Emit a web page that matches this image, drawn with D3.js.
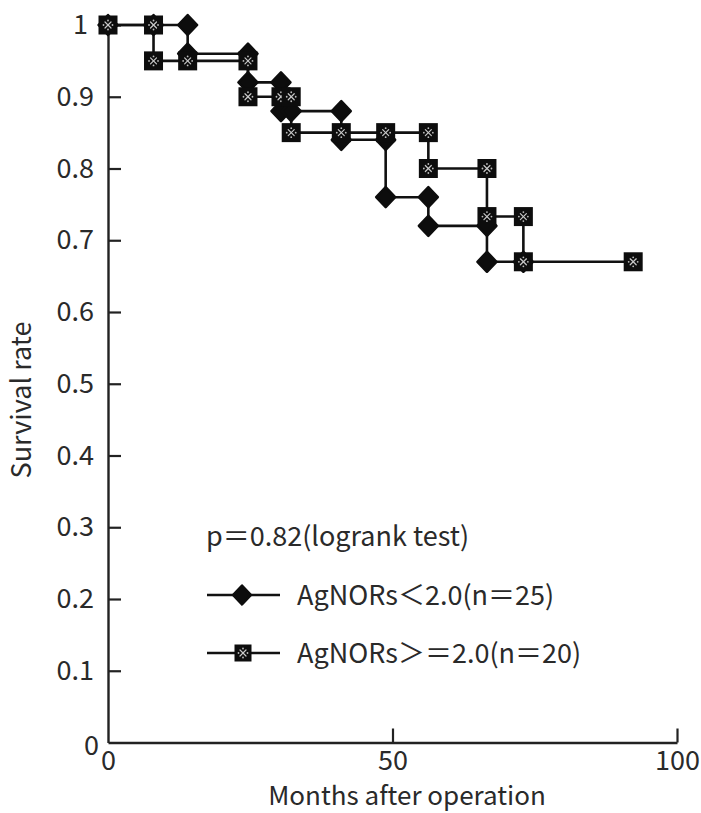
<!DOCTYPE html>
<html>
<head>
<meta charset="utf-8">
<script src="https://cdn.jsdelivr.net/npm/d3@7"></script>
<style>
  html, body { margin: 0; padding: 0; background: #fff; }
  svg { display: block; }
  text { font-family: "Noto Sans CJK JP", "Noto Sans", sans-serif; fill: #2a2a2a; }
</style>
</head>
<body>
<svg id="chart" width="701" height="813"></svg>
<script>
// Kaplan-Meier survival curves: months after operation vs survival rate
const lowTimes = [0, 8, 14, 24.6, 30.4, 32.2, 41, 48.8, 56.3, 66.6, 73];
const lowSurv  = [1, 1, 0.96, 0.92, 0.88, 0.88, 0.84, 0.76, 0.72, 0.67, 0.67];

const highTimes = [0, 8, 14, 24.6, 30.4, 32.2, 41, 48.8, 56.3, 66.6, 73, 92.3];
const highSurv  = [1, 0.95, 0.95, 0.90, 0.90, 0.85, 0.85, 0.85, 0.80, 0.733, 0.67, 0.67];

const xTicks = [0, 50, 100];
const xTickLabels = ["0", "50", "100"];
const yTicks = [0, 0.1, 0.2, 0.3, 0.4, 0.5, 0.6, 0.7, 0.8, 0.9, 1];
const yTickLabels = ["0", "0.1", "0.2", "0.3", "0.4", "0.5", "0.6", "0.7", "0.8", "0.9", "1"];

const seriesNames = ["AgNORs＜2.0(n＝25)", "AgNORs＞＝2.0(n＝20)"];
const testNote = "p＝0.82(logrank test)";
const xTitle = "Months after operation";
const yTitle = "Survival rate";

const svg = d3.select("#chart");
const x = d3.scaleLinear().domain([0, 100]).range([108, 677]);
const y = d3.scaleLinear().domain([0, 1]).range([742.5, 25]);

// axes: ticks point into the plot
const xAxis = d3.axisBottom(x)
  .tickValues(xTicks)
  .tickFormat((d, i) => xTickLabels[i])
  .tickSizeInner(-14).tickSizeOuter(0).tickPadding(8);
const yAxis = d3.axisLeft(y)
  .tickValues(yTicks)
  .tickFormat((d, i) => yTickLabels[i])
  .tickSizeInner(-13).tickSizeOuter(0).tickPadding(14);

const gx = svg.append("g").attr("transform", `translate(0,${y(0)})`).call(xAxis);
const gy = svg.append("g").attr("transform", `translate(${x(0)},0)`).call(yAxis);
[gx, gy].forEach(g => {
  g.select(".domain").attr("stroke", "#222").attr("stroke-width", 2.4);
  g.selectAll(".tick line").attr("stroke", "#222").attr("stroke-width", 2.2);
  g.selectAll(".tick text").attr("font-size", 27).attr("fill", "#2a2a2a")
    .attr("font-family", "'Noto Sans CJK JP', sans-serif");
});
gx.selectAll(".tick").filter(d => d === 0).select("line").remove();
gy.selectAll(".tick").filter(d => d === 0).select("line").remove();
gy.selectAll(".tick").filter(d => d === 0).select("text").attr("dy", "0.45em").attr("x", -9);
gy.selectAll(".tick").filter(d => d === 1).select("text").attr("x", -20);

// axis titles
svg.append("text")
  .attr("x", 407).attr("y", 805)
  .attr("text-anchor", "middle").attr("font-size", 26)
  .text(xTitle);
svg.append("text")
  .attr("transform", `translate(31,${400}) rotate(-90)`)
  .attr("text-anchor", "middle").attr("font-size", 27)
  .text(yTitle);

// step curves
const step = d3.line().curve(d3.curveStepAfter)
  .x(d => x(d[0])).y(d => y(d[1]));
const lowPts = lowTimes.map((t, i) => [t, lowSurv[i]]);
const highPts = highTimes.map((t, i) => [t, highSurv[i]]);

[lowPts, highPts].forEach(pts => {
  svg.append("path").datum(pts)
    .attr("d", step)
    .attr("fill", "none").attr("stroke", "#111").attr("stroke-width", 2.6);
});

// marker positions: both ends of each drop, or a single point where it stays level
function markerPoints(pts) {
  const out = [];
  pts.forEach((p, i) => {
    if (i > 0 && pts[i - 1][1] !== p[1]) out.push([p[0], pts[i - 1][1]]);
    out.push(p);
  });
  return out;
}

function drawDiamond(g, cx, cy, r) {
  g.append("path")
    .attr("d", `M${cx},${cy - r}L${cx + r * 0.95},${cy}L${cx},${cy + r}L${cx - r * 0.95},${cy}Z`)
    .attr("fill", "#0d0d0d").attr("stroke", "#0d0d0d").attr("stroke-width", 2.5)
    .attr("stroke-linejoin", "round");
}

function drawSquare(g, cx, cy, s) {
  g.append("rect")
    .attr("x", cx - s / 2).attr("y", cy - s / 2)
    .attr("width", s).attr("height", s)
    .attr("fill", "#0d0d0d");
  // small light ※-like fill pattern
  const p = g.append("g").attr("stroke", "#c8c8c8").attr("stroke-width", 1.2)
    .attr("stroke-linecap", "round");
  p.append("line").attr("x1", cx - 3).attr("y1", cy - 3).attr("x2", cx + 3).attr("y2", cy + 3);
  p.append("line").attr("x1", cx - 3).attr("y1", cy + 3).attr("x2", cx + 3).attr("y2", cy - 3);
  [[0, -4.5], [0, 4.5], [-4.5, 0], [4.5, 0]].forEach(([dx, dy]) => {
    g.append("circle").attr("cx", cx + dx).attr("cy", cy + dy).attr("r", 0.9).attr("fill", "#bdbdbd");
  });
}

const gLow = svg.append("g");
markerPoints(lowPts).forEach(p => drawDiamond(gLow, x(p[0]), y(p[1]), 10));
const gHigh = svg.append("g");
markerPoints(highPts).forEach(p => drawSquare(gHigh, x(p[0]), y(p[1]), 19));

// legend
const lg = svg.append("g");
lg.append("text").attr("x", 206).attr("y", 546).attr("font-size", 27).text(testNote);

const legendRows = [
  { y: 595, name: seriesNames[0], mark: "diamond" },
  { y: 653, name: seriesNames[1], mark: "square" }
];
legendRows.forEach(r => {
  lg.append("line").attr("x1", 207).attr("x2", 280).attr("y1", r.y).attr("y2", r.y)
    .attr("stroke", "#111").attr("stroke-width", 2.6);
  if (r.mark === "diamond") drawDiamond(lg, 242, r.y, 9.5);
  else drawSquare(lg, 243, r.y, 17);
  lg.append("text").attr("x", 297).attr("y", r.y + 10).attr("font-size", 27).text(r.name);
});
</script>
</body>
</html>
